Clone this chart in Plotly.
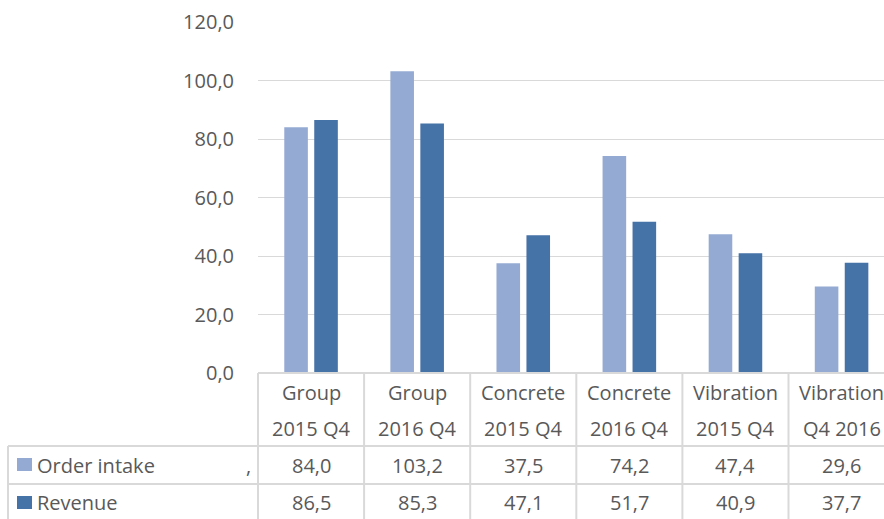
import plotly.graph_objects as go

categories = ["Group 2015 Q4", "Group 2016 Q4", "Concrete 2015 Q4",
              "Concrete 2016 Q4", "Vibration 2015 Q4", "Vibration Q4 2016"]
cat_line1 = ["Group", "Group", "Concrete", "Concrete", "Vibration", "Vibration"]
cat_line2 = ["2015 Q4", "2016 Q4", "2015 Q4", "2016 Q4", "2015 Q4", "Q4 2016"]
order_intake = [84.0, 103.2, 37.5, 74.2, 47.4, 29.6]
revenue = [86.5, 85.3, 47.1, 51.7, 40.9, 37.7]
series_names = ["Order intake", "Revenue"]
y_ticks = [0, 20, 40, 60, 80, 100, 120]

W, H = 884, 519
L, R, T, B = 258, 0, 22, 146
PW = W - L - R
PH = H - T - B
C_LIGHT = "#94AAD3"
C_DARK = "#4572A7"
GRID = "#D9D9D9"
TXT = "#595959"
FONT = "Open Sans"


def px(x):
    return (x - L) / PW


def py(y):
    return (H - B - y) / PH


fig = go.Figure()
fig.add_trace(go.Bar(x=categories, y=order_intake, name=series_names[0],
                     marker=dict(color=C_LIGHT, line=dict(width=0))))
fig.add_trace(go.Bar(x=categories, y=revenue, name=series_names[1],
                     marker=dict(color=C_DARK, line=dict(width=0))))

shapes = []
line = dict(color=GRID, width=2)
# table horizontal lines
shapes.append(dict(type="line", xref="paper", yref="paper", x0=0, x1=1.05,
                   y0=0, y1=0, line=line))
for yy in [446, 484]:
    shapes.append(dict(type="line", xref="paper", yref="paper",
                       x0=px(8), x1=1.05, y0=py(yy), y1=py(yy), line=line))
# vertical lines
shapes.append(dict(type="line", xref="paper", yref="paper", x0=px(8), x1=px(8),
                   y0=py(446), y1=py(530), line=line))
shapes.append(dict(type="line", xref="paper", yref="paper", x0=0, x1=0,
                   y0=0, y1=py(530), line=line))
for i in range(len(categories) - 1):
    shapes.append(dict(type="line", xref="x", yref="paper", x0=i + 0.5, x1=i + 0.5,
                       y0=0, y1=py(530), line=line))
# legend keys
shapes.append(dict(type="rect", xref="paper", yref="paper", x0=px(17), x1=px(32),
                   y0=py(458), y1=py(471), fillcolor=C_LIGHT, line=dict(width=0)))
shapes.append(dict(type="rect", xref="paper", yref="paper", x0=px(17), x1=px(32),
                   y0=py(496), y1=py(509), fillcolor=C_DARK, line=dict(width=0)))

ann = []
f = dict(family=FONT, size=20, color=TXT)
for i, c in enumerate(categories):
    ann.append(dict(x=c, y=py(392), xref="x", yref="paper", text=cat_line1[i],
                    showarrow=False, font=f, xanchor="center", yanchor="middle"))
    ann.append(dict(x=c, y=py(428), xref="x", yref="paper", text=cat_line2[i],
                    showarrow=False, font=f, xanchor="center", yanchor="middle"))
    ann.append(dict(x=c, y=py(465), xref="x", yref="paper",
                    text=f"{order_intake[i]:.1f}".replace(".", ","),
                    showarrow=False, font=f, xanchor="center", yanchor="middle"))
    ann.append(dict(x=c, y=py(503), xref="x", yref="paper",
                    text=f"{revenue[i]:.1f}".replace(".", ","),
                    showarrow=False, font=f, xanchor="center", yanchor="middle"))
ann.append(dict(x=px(35), y=py(465), xref="paper", yref="paper", text=series_names[0],
                showarrow=False, font=f, xanchor="left", yanchor="middle"))
ann.append(dict(x=px(35), y=py(503), xref="paper", yref="paper", text=series_names[1],
                showarrow=False, font=f, xanchor="left", yanchor="middle"))
ann.append(dict(x=px(248), y=py(465), xref="paper", yref="paper", text=",",
                showarrow=False, font=f, xanchor="center", yanchor="middle"))

fig.update_layout(
    width=W, height=H,
    margin=dict(l=L, r=R, t=T, b=B, pad=0),
    paper_bgcolor="white", plot_bgcolor="white",
    separators=",.",
    barmode="group", bargap=0.435, bargroupgap=0.213,
    showlegend=False,
    font=dict(family=FONT, size=20, color=TXT),
    xaxis=dict(range=[-0.5, 5.4], showticklabels=False, showgrid=False,
               zeroline=False, showline=False, ticks="", fixedrange=True),
    yaxis=dict(range=[0, 120], tickvals=y_ticks, tickformat=".1f",
               showgrid=True, gridcolor=GRID, gridwidth=1, zeroline=False,
               showline=False, ticks="", ticklabelstandoff=23,
               tickfont=dict(family=FONT, size=20, color=TXT)),
    shapes=shapes, annotations=ann,
)

fig.write_html("out.html", config={"displayModeBar": False})
